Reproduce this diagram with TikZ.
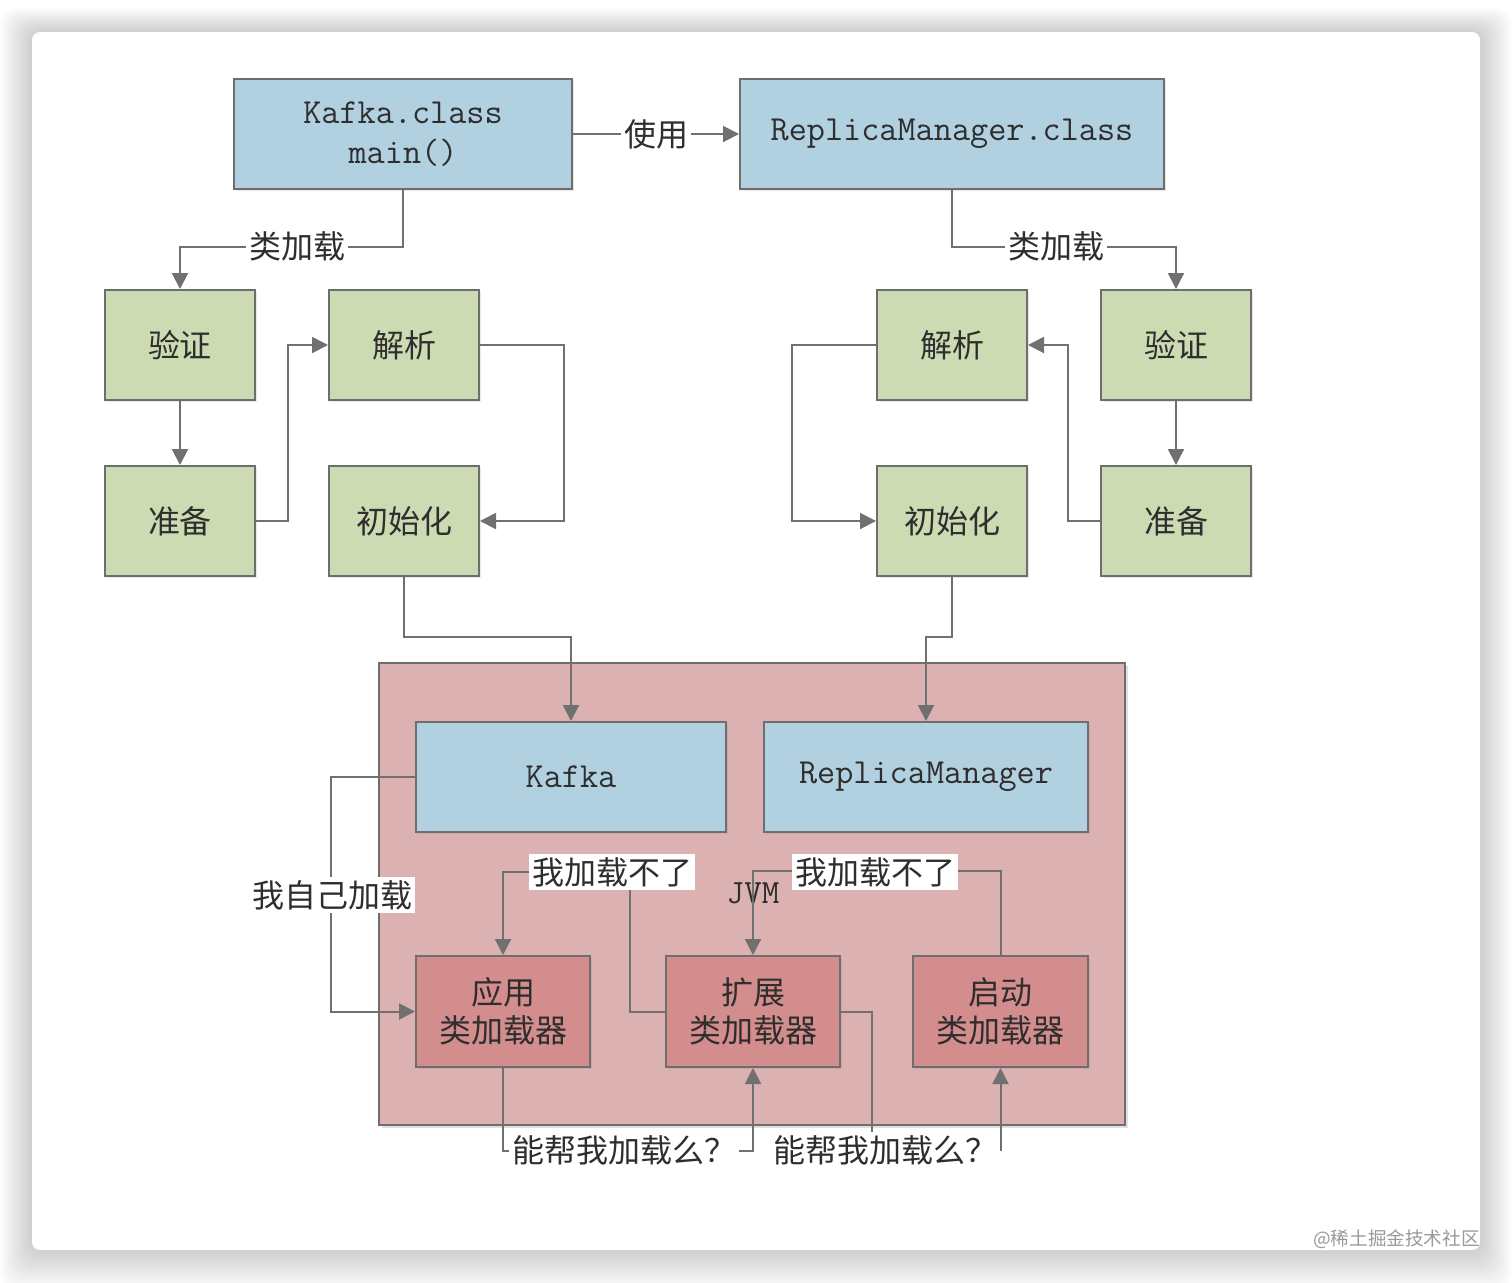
\documentclass[tikz,border=0pt]{standalone}
\usepackage{fontspec}
\setmainfont{Noto Sans CJK SC}
\newfontfamily\cjk{Noto Sans CJK SC}
\newfontfamily\monof{Latin Modern Mono}
\usetikzlibrary{arrows.meta,shadows}
\definecolor{boxblue}{HTML}{B1D0E0}
\definecolor{boxgreen}{HTML}{CDDBB3}
\definecolor{contpink}{HTML}{DCB1B1}
\definecolor{boxred}{HTML}{D48D8D}
\definecolor{edgegray}{HTML}{6E6E6E}
\definecolor{linegray}{HTML}{707070}
\definecolor{txt}{HTML}{2E2E2E}
\tikzset{
  basebox/.style={draw=edgegray, line width=1pt, inner sep=0pt, align=center, text=txt,
    drop shadow={opacity=0.18, shadow xshift=1.2pt, shadow yshift=-1.2pt}},
  bluebox/.style={basebox, fill=boxblue, font=\monof\fontsize{17.6}{20}\selectfont, minimum height=55pt},
  greenbox/.style={basebox, fill=boxgreen, font=\cjk\fontsize{16}{19}\selectfont, minimum width=75pt, minimum height=55pt},
  redbox/.style={basebox, fill=boxred, font=\cjk\fontsize{16}{19}\selectfont, minimum width=87pt, minimum height=55.5pt},
  conn/.style={draw=linegray, line width=1pt, -{Triangle[length=8pt,width=8pt]}},
  lbl/.style={fill=white, inner sep=1.5pt, text=txt, font=\cjk\fontsize{16}{19}\selectfont},
}
\begin{document}
\begin{tikzpicture}[x=0.5pt,y=-0.5pt]
\useasboundingbox (0,0) rectangle (1512,1282);
\fill[white] (0,0) rectangle (1512,1282);
% card shadow
\foreach \i in {1,...,16}{
  \fill[black, opacity=0.012, rounded corners=8pt] (32-2*\i,32-1.5*\i) rectangle (1480+2*\i,1250+2.5*\i);
}
\fill[white, rounded corners=4pt] (32,32) rectangle (1480,1250);

% top class boxes
\node[bluebox, minimum width=169pt] (kc) at (403,134) {Kafka.class\\main()};
\node[bluebox, minimum width=212pt] (rc) at (952,134) {ReplicaManager.class};

% left green
\node[greenbox] (lv) at (180,345) {验证};
\node[greenbox] (lj) at (404,345) {解析};
\node[greenbox] (lz) at (180,521) {准备};
\node[greenbox] (lc) at (404,521) {初始化};
% right green
\node[greenbox] (rj) at (952,345) {解析};
\node[greenbox] (rv) at (1176,345) {验证};
\node[greenbox] (ri) at (952,521) {初始化};
\node[greenbox] (rz) at (1176,521) {准备};

% container
\fill[black, opacity=0.12] (382,666) rectangle (1128,1128);
\draw[draw=edgegray, line width=1pt, fill=contpink] (379,663) rectangle (1125,1125);

\node[bluebox, minimum width=155pt] (ik) at (571,777) {Kafka};
\node[bluebox, minimum width=162pt] (ir) at (926,777) {ReplicaManager};

\node[redbox] (app) at (503,1011.5) {应用\\类加载器};
\node[redbox] (ext) at (753,1011.5) {扩展\\类加载器};
\node[redbox, minimum width=87.5pt] (boot) at (1000.5,1011.5) {启动\\类加载器};

% top connectors
\draw[conn] (kc.east) -- (rc.west) node[lbl, midway] {使用};
\draw[conn] (kc.south) -- ++(0,57) -| (lv.north);
\node[lbl] at (297,246) {类加载};
\draw[conn] (rc.south) -- ++(0,57) -| (rv.north);
\node[lbl] at (1056,246) {类加载};

% left chain
\draw[conn] (lv.south) -- (lz.north);
\draw[conn] (lz.east) -- ++(32,0) |- (lj.west);
\draw[conn] (lj.east) -- ++(84,0) |- (lc.east);
\draw[conn] (lc.south) -- ++(0,60) -| (ik.north);
% right chain
\draw[conn] (rv.south) -- (rz.north);
\draw[conn] (rz.west) -- ++(-32,0) |- (rj.east);
\draw[conn] (rj.west) -- ++(-84,0) |- (ri.west);
\draw[conn] (ri.south) -- ++(0,60) -| (ir.north);

% inner connectors
\draw[conn] (ik.west) -- ++(-84,0) |- (app.west);
\node[lbl] at (332,895) {我自己加载};

\node[text=txt, font=\monof\fontsize{17}{18}\selectfont, inner sep=0pt] (jvm) at (753,893) {JVM};

\draw[conn] (ext.west) -- ++(-35,0) -- ++(0,-139.5) -| (app.north);
\node[lbl] at (612,872) {我加载不了};
\draw[conn] (boot.north) -- ++(0,-84) -| (ext.north);
\node[lbl] at (875,872) {我加载不了};

\draw[conn] (app.south) -- ++(0,83) -| (ext.south);
\node[lbl] at (624,1150) {能帮我加载么？};
\draw[conn] (ext.east) -- ++(31,0) -- ++(0,138.5) -| (boot.south);
\node[lbl] at (885,1150) {能帮我加载么？};

% watermark
\node[anchor=east, text=black!40, font=\cjk\fontsize{9.3}{11}\selectfont, inner sep=0pt] (wm) at (1480,1239) {@稀土掘金技术社区};
\end{tikzpicture}
\end{document}
